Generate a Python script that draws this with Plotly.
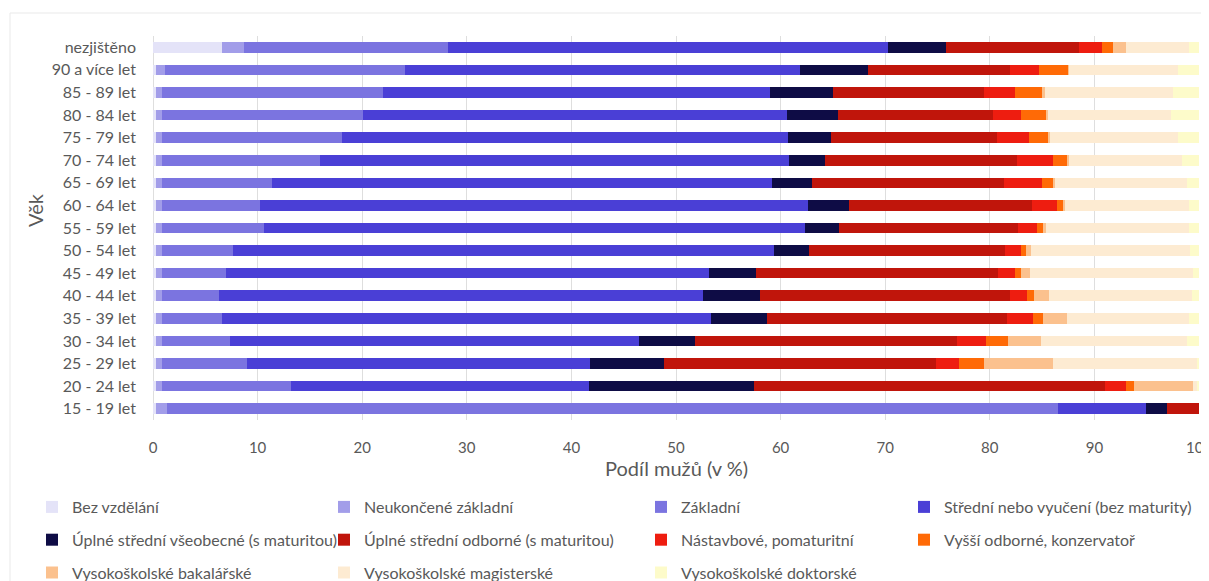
import plotly.graph_objects as go

ages = ["nezjištěno", "90 a více let", "85 - 89 let", "80 - 84 let", "75 - 79 let",
        "70 - 74 let", "65 - 69 let", "60 - 64 let", "55 - 59 let", "50 - 54 let",
        "45 - 49 let", "40 - 44 let", "35 - 39 let", "30 - 34 let", "25 - 29 let",
        "20 - 24 let", "15 - 19 let"]

bez_vzdelani   = [6.6, 0.3, 0.3, 0.3, 0.3, 0.3, 0.3, 0.3, 0.3, 0.3, 0.3, 0.3, 0.3, 0.3, 0.3, 0.3, 0.3]
neukoncene     = [2.1, 0.8, 0.6, 0.6, 0.6, 0.6, 0.6, 0.6, 0.6, 0.6, 0.6, 0.6, 0.6, 0.6, 0.6, 0.6, 1.0]
zakladni       = [19.5, 23.0, 21.1, 19.2, 17.2, 15.1, 10.5, 9.3, 9.7, 6.7, 6.1, 5.4, 5.7, 6.5, 8.1, 12.3, 85.2]
stredni_bez    = [42.1, 37.8, 37.0, 40.5, 42.6, 44.8, 47.8, 52.4, 51.7, 51.8, 46.2, 46.3, 46.7, 39.1, 32.8, 28.5, 8.4]
uplne_vseob    = [5.5, 6.5, 6.0, 4.9, 4.1, 3.4, 3.8, 3.9, 3.3, 3.3, 4.4, 5.4, 5.4, 5.3, 7.1, 15.8, 2.0]
uplne_odb      = [12.7, 13.5, 14.4, 14.8, 15.9, 18.4, 18.4, 17.5, 17.1, 18.8, 23.2, 23.9, 22.9, 25.1, 26.0, 33.5, 3.1]
nastavbove     = [2.2, 2.8, 3.0, 2.7, 3.0, 3.4, 3.6, 2.4, 1.8, 1.5, 1.6, 1.7, 2.5, 2.7, 2.2, 2.0, 0.0]
vyssi_odb      = [1.1, 2.8, 2.6, 2.4, 1.9, 1.4, 1.0, 0.6, 0.6, 0.5, 0.6, 0.6, 1.0, 2.1, 2.3, 0.8, 0.0]
bakalarske     = [1.2, 0.1, 0.3, 0.2, 0.2, 0.2, 0.2, 0.2, 0.3, 0.4, 0.8, 1.5, 2.3, 3.2, 6.6, 5.6, 0.0]
magisterske    = [6.0, 10.4, 12.2, 11.7, 12.2, 10.8, 12.7, 11.8, 13.6, 15.2, 15.6, 13.6, 11.6, 14.0, 13.9, 0.5, 0.0]
doktorske      = [1.0, 2.0, 2.5, 2.7, 2.0, 1.6, 1.1, 1.0, 1.0, 0.9, 0.6, 0.7, 1.0, 1.1, 0.1, 0.1, 0.0]

series_names = ["Bez vzdělání", "Neukončené základní", "Základní",
                "Střední nebo vyučení (bez maturity)",
                "Úplné střední všeobecné (s maturitou)", "Úplné střední odborné (s maturitou)",
                "Nástavbové, pomaturitní", "Vyšší odborné, konzervatoř",
                "Vysokoškolské bakalářské", "Vysokoškolské magisterské", "Vysokoškolské doktorské"]
series_values = [bez_vzdelani, neukoncene, zakladni, stredni_bez, uplne_vseob, uplne_odb,
                 nastavbove, vyssi_odb, bakalarske, magisterske, doktorske]
colors = ["#e4e3f8", "#a29de9", "#7b74e0", "#4a3fd6", "#0e0c45", "#c0150b",
          "#ee1d10", "#ff6a06", "#fbc18e", "#fdebd2", "#fdfbca"]
# column of legend each series appears in (4 columns, read row by row)
legend_ids = ["legend", "legend2", "legend3", "legend4",
              "legend", "legend2", "legend3", "legend4",
              "legend", "legend2", "legend3"]

x_ticks = [0, 10, 20, 30, 40, 50, 60, 70, 80, 90, 100]

FONT = "Lato, 'Open Sans', sans-serif"
GREY = "#595959"

fig = go.Figure()
for i, (name, vals, col, lg) in enumerate(zip(series_names, series_values, colors, legend_ids)):
    fig.add_trace(go.Bar(
        y=ages, x=vals, name=name, orientation="h",
        marker=dict(color=col, line=dict(width=0)),
        legend=lg, legendgroup=f"g{i}",
    ))

# page has an 8px body margin: figure is sized so it fits in the 1209x581 window
OFF = 8
W, H = 1209 - OFF, 581 - OFF
ml, mr, mt, mb = 153 - OFF, 10, 36 - OFF, 161
pw = W - ml - mr
ph = H - mt - mb

def px_x(p):  # screen px -> paper
    return (p - OFF - ml) / pw

def px_y(p):  # screen px -> paper
    return (H - mb - (p - OFF)) / ph

legend_common = dict(
    orientation="v", yanchor="top", xanchor="left",
    y=px_y(490), font=dict(family=FONT, size=16, color=GREY),
    bgcolor="rgba(0,0,0,0)", tracegroupgap=9, traceorder="grouped",
    itemwidth=30,
)

fig.update_layout(
    width=W, height=H,
    margin=dict(l=ml, r=mr, t=mt, b=mb, autoexpand=False),
    paper_bgcolor="white", plot_bgcolor="white",
    barmode="stack", bargap=0.53,
    font=dict(family=FONT, color=GREY),
    showlegend=True,
    legend=dict(x=px_x(32), **legend_common),
    legend2=dict(x=px_x(324), **legend_common),
    legend3=dict(x=px_x(641), **legend_common),
    legend4=dict(x=px_x(904), **legend_common),
    xaxis=dict(
        range=[0, 100], tickvals=x_ticks, ticktext=[str(v) for v in x_ticks],
        showgrid=True, gridcolor="#dedede", gridwidth=1,
        zeroline=True, zerolinecolor="#dedede", zerolinewidth=1,
        showline=False, ticks="", tickfont=dict(family=FONT, size=15, color=GREY),
        ticklabelstandoff=17, ticklabeloverflow="allow",
        fixedrange=True, automargin=False,
    ),
    yaxis=dict(
        categoryorder="array", categoryarray=ages, autorange="reversed",
        showgrid=False, zeroline=False, showline=False, ticks="",
        tickfont=dict(family=FONT, size=16, color=GREY),
        ticklabelstandoff=16, fixedrange=True, automargin=False,
    ),
    annotations=[
        dict(text="Podíl mužů (v %)", xref="paper", yref="paper",
             x=px_x(676), y=px_y(468), xanchor="center", yanchor="middle",
             showarrow=False, font=dict(family=FONT, size=20, color=GREY)),
        dict(text="Věk", xref="paper", yref="paper",
             x=px_x(35), y=px_y(210), xanchor="center", yanchor="middle",
             textangle=-90, showarrow=False,
             font=dict(family=FONT, size=20, color=GREY)),
    ],
    shapes=[
        dict(type="rect", xref="paper", yref="paper",
             x0=px_x(10), x1=px_x(1215), y0=px_y(13), y1=px_y(595),
             line=dict(color="#e9e9e9", width=1), fillcolor="rgba(0,0,0,0)",
             layer="below"),
    ],
)

fig.write_html("out.html")
